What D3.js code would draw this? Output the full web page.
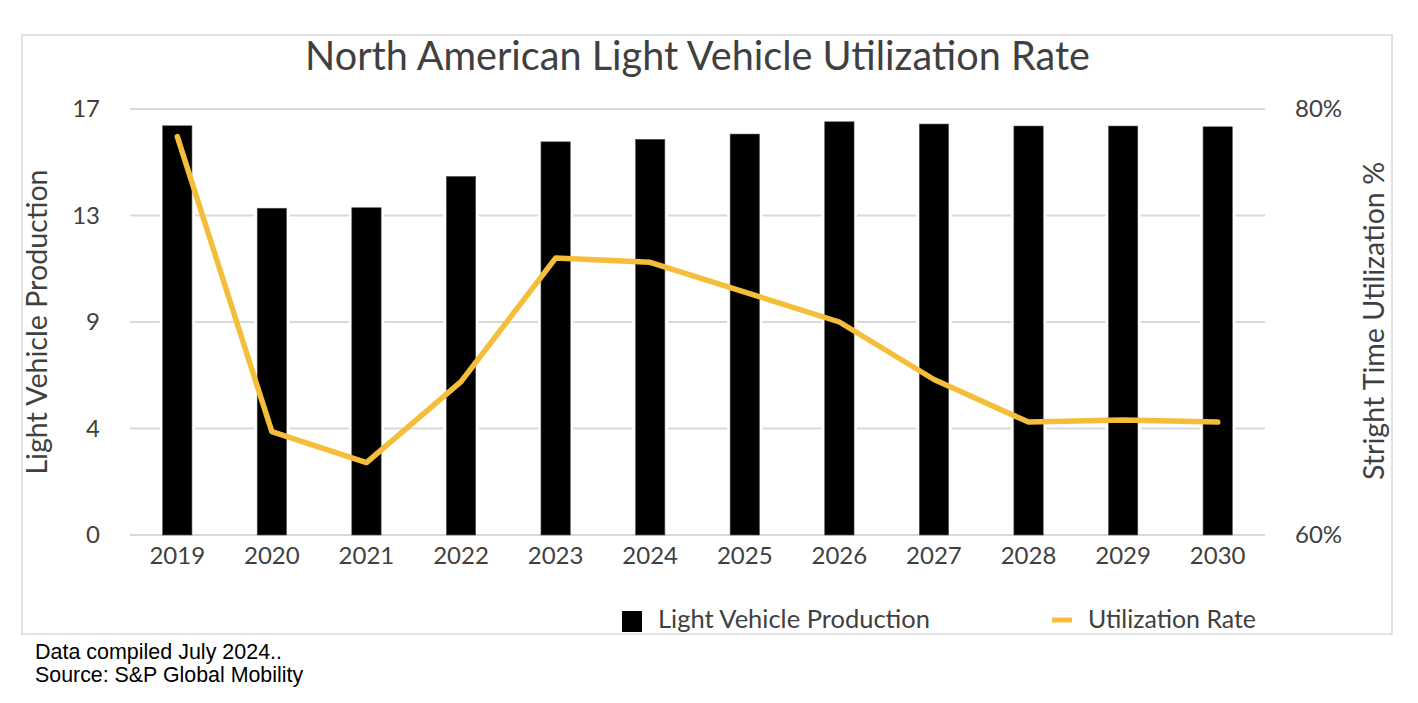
<!DOCTYPE html>
<html><head><meta charset="utf-8">
<script src="https://cdn.jsdelivr.net/npm/d3@7"></script>
<style>body{margin:0;background:#fff}svg{display:block}</style>
</head><body>
<svg id="c" width="1418" height="703"></svg>
<script>
const years = ["2019","2020","2021","2022","2023","2024","2025","2026","2027","2028","2029","2030"];
const production = [16.33,13.04,13.06,14.31,15.69,15.79,16.0,16.49,16.4,16.32,16.32,16.29];
const utilization = [78.7,64.85,63.4,67.2,73.0,72.8,71.4,70.0,67.3,65.3,65.4,65.3];
const leftTickValues = [0,4.25,8.5,12.75,17];
const leftTickLabels = ["0","4","9","13","17"];
const rightTickValues = [60,80];
const titleText = "North American Light Vehicle Utilization Rate";
const leftAxisTitle = "Light Vehicle Production";
const rightAxisTitle = "Stright Time Utilization %";
const footerLines = ["Data compiled July 2024..","Source: S&P Global Mobility"];

const svg = d3.select("#c");
const textColor = "#404040", gridColor = "#d9d9d9", lineColor = "#F4BE3A";
const font = "Lato, 'Open Sans', sans-serif";
const plot = {left:130, right:1265, top:109, bottom:535};

function fit(sel, w){
  const n = sel.node(); let fs = parseFloat(sel.attr("font-size"));
  for(let i=0;i<4;i++){ const cw = n.getComputedTextLength(); fs = fs*w/cw; sel.attr("font-size", fs); }
}

// border
svg.append("rect").attr("x",22).attr("y",35).attr("width",1370).attr("height",599)
  .attr("fill","none").attr("stroke",gridColor).attr("stroke-width",1.5);

const x = d3.scaleBand().domain(years).range([plot.left,plot.right]).paddingInner(0.69).paddingOuter(0.345);
const yL = d3.scaleLinear().domain([0,17]).range([plot.bottom,plot.top]);
const yR = d3.scaleLinear().domain([60,80]).range([plot.bottom,plot.top]);

// gridlines
svg.append("g").selectAll("line").data(leftTickValues).join("line")
  .attr("x1",plot.left).attr("x2",plot.right).attr("y1",d=>yL(d)).attr("y2",d=>yL(d))
  .attr("stroke",gridColor).attr("stroke-width",2.2);

// white gaps around bars
svg.append("g").selectAll("rect").data(production).join("rect")
  .attr("x",(d,i)=>x(years[i])-3).attr("width",x.bandwidth()+6)
  .attr("y",d=>yL(d)-3).attr("height",d=>yL(0)-yL(d)+1).attr("fill","#fff");
// bars
svg.append("g").selectAll("rect").data(production).join("rect")
  .attr("x",(d,i)=>x(years[i])).attr("width",x.bandwidth())
  .attr("y",d=>yL(d)).attr("height",d=>yL(0)-yL(d)).attr("fill","#000")
  .attr("stroke","#555").attr("stroke-width",0.6);

// line
const line = d3.line().x((d,i)=>x(years[i])+x.bandwidth()/2).y(d=>yR(d));
svg.append("path").datum(utilization).attr("d",line).attr("fill","none")
  .attr("stroke",lineColor).attr("stroke-width",5.5).attr("stroke-linejoin","round").attr("stroke-linecap","round");

// axes
const axL = svg.append("g").attr("transform",`translate(${plot.left},0)`)
  .call(d3.axisLeft(yL).tickValues(leftTickValues).tickFormat((d,i)=>leftTickLabels[i]).tickSize(0).tickPadding(30));
const axR = svg.append("g").attr("transform",`translate(${plot.right},0)`)
  .call(d3.axisRight(yR).tickValues(rightTickValues).tickFormat(d=>d+"%").tickSize(0).tickPadding(30));
const axB = svg.append("g").attr("transform",`translate(0,${plot.bottom})`)
  .call(d3.axisBottom(x).tickSize(0).tickPadding(12));
[axL,axR,axB].forEach(a=>{a.select(".domain").remove();
  a.selectAll("text").attr("font-family",font).attr("font-size",24).attr("fill",textColor);});

// title
const t = svg.append("text").attr("x",697.5).attr("y",70).attr("text-anchor","middle")
  .attr("font-family",font).attr("font-size",36).attr("fill",textColor).text(titleText);
fit(t,785);

// axis titles
const lt = svg.append("text").attr("transform","translate(47,322) rotate(-90)").attr("text-anchor","middle")
  .attr("font-family",font).attr("font-size",26).attr("fill",textColor).text(leftAxisTitle);
fit(lt,305);
const rt = svg.append("text").attr("transform","translate(1384,321) rotate(-90)").attr("text-anchor","middle")
  .attr("font-family",font).attr("font-size",26).attr("fill",textColor).text(rightAxisTitle);
fit(rt,318);

// legend
svg.append("rect").attr("x",622).attr("y",611).attr("width",20).attr("height",21).attr("fill","#000");
const l1 = svg.append("text").attr("x",658).attr("y",628).attr("font-family",font).attr("font-size",24)
  .attr("fill",textColor).text("Light Vehicle Production");
fit(l1,272);
svg.append("line").attr("x1",1052).attr("x2",1072).attr("y1",620).attr("y2",620)
  .attr("stroke",lineColor).attr("stroke-width",5);
const l2 = svg.append("text").attr("x",1088).attr("y",628).attr("font-family",font).attr("font-size",24)
  .attr("fill",textColor).text("Utilization Rate");
fit(l2,168);

// footer
footerLines.forEach((s,i)=>{
  const f = svg.append("text").attr("x",35).attr("y",659+i*23).attr("font-family","'Liberation Sans', Arial, sans-serif")
    .attr("font-size",19).attr("fill","#000").text(s);
  fit(f, i===0?247:268);
});
</script>
</body></html>
